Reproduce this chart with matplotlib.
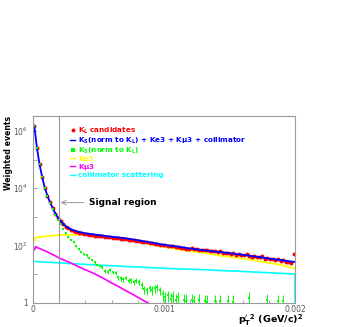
import numpy as np
import matplotlib
matplotlib.use("Agg")
import matplotlib.pyplot as plt
from matplotlib.lines import Line2D
from matplotlib.ticker import FixedLocator, FixedFormatter, MultipleLocator

# pT'^2 bins: 100 bins of 0.00002 (GeV/c)^2, values given as log10(weighted events)
bin_centers = np.arange(0.00001, 0.002, 0.00002)

kl_cand_log10 = [
    6.18, 5.41, 4.83, 4.39, 4.02, 3.74, 3.51, 3.30, 3.12, 2.97,
    2.85, 2.75, 2.66, 2.60, 2.55, 2.51, 2.48, 2.45, 2.43, 2.41,
    2.40, 2.38, 2.37, 2.35, 2.34, 2.34, 2.32, 2.31, 2.29, 2.29,
    2.27, 2.26, 2.26, 2.24, 2.23, 2.22, 2.20, 2.19, 2.18, 2.16,
    2.15, 2.14, 2.12, 2.11, 2.09, 2.08, 2.07, 2.05, 2.03, 2.02,
    2.01, 2.00, 1.97, 1.98, 1.95, 1.96, 1.92, 1.93, 1.90, 1.89,
    1.91, 1.87, 1.88, 1.84, 1.86, 1.85, 1.84, 1.81, 1.80, 1.82,
    1.77, 1.80, 1.73, 1.75, 1.74, 1.70, 1.76, 1.69, 1.71, 1.66,
    1.68, 1.72, 1.64, 1.62, 1.64, 1.60, 1.59, 1.63, 1.55, 1.58,
    1.52, 1.55, 1.49, 1.54, 1.46, 1.50, 1.43, 1.44, 1.41, 1.71,
]

N = None
ks_log10 = [
    6.18, 5.41, 4.83, 4.38, 4.01, 3.72, 3.48, 3.26, 3.06, 2.89,
    2.74, 2.58, 2.45, 2.30, 2.21, 2.12, 1.98, 1.88, 1.79, 1.72,
    1.66, 1.58, 1.50, 1.42, 1.34, 1.30, 1.24, 1.12, 1.09, 1.15,
    1.07, 1.04, 0.90, 0.86, 0.84, 0.88, 0.78, 0.80, 0.72, 0.78,
    0.74, 0.62, 0.48, 0.45, 0.52, 0.46, 0.51, 0.55, 0.44, 0.30,
    0.22, 0.28, 0.15, 0.25, 0.10, 0.20, N, 0.12, 0.08, N,
    0.10, 0.06, N, 0.12, N, 0.08, 0.05, N, N, 0.07,
    N, 0.06, N, N, 0.08, N, 0.05, N, N, N,
    N, N, 0.18, N, N, N, N, N, N, 0.10,
    N, N, N, 0.06, N, 0.08, N, N, N, N,
]
ks_rel_err = [
    0.01, 0.01, 0.01, 0.01, 0.01, 0.01, 0.01, 0.02, 0.02, 0.02,
    0.03, 0.03, 0.04, 0.04, 0.05, 0.05, 0.06, 0.07, 0.08, 0.08,
    0.09, 0.10, 0.10, 0.11, 0.12, 0.13, 0.14, 0.15, 0.15, 0.14,
    0.15, 0.16, 0.18, 0.19, 0.19, 0.18, 0.20, 0.20, 0.22, 0.20,
    0.21, 0.25, 0.30, 0.32, 0.28, 0.32, 0.30, 0.28, 0.32, 0.40,
    0.48, 0.42, 0.55, 0.45, 0.60, 0.50, N, 0.60, 0.65, N,
    0.62, 0.66, N, 0.60, N, 0.64, 0.66, N, N, 0.65,
    N, 0.66, N, N, 0.64, N, 0.66, N, N, N,
    N, N, 0.60, N, N, N, N, N, N, 0.62,
    N, N, N, 0.66, N, 0.64, N, N, N, N,
]

# fit sum: KS + Ke3 + Kmu3 + collimator
sum_x = [0.00001, 0.00003, 0.00005, 0.00007, 0.00009, 0.00011, 0.00013, 0.00015,
         0.00017, 0.00019, 0.00021, 0.00023, 0.00025, 0.00027, 0.00029, 0.00031,
         0.00035, 0.0004, 0.0005, 0.0006, 0.0007, 0.0008, 0.0009, 0.0010, 0.0011,
         0.0012, 0.0013, 0.0014, 0.0015, 0.0016, 0.0017, 0.0018, 0.0019, 0.0020]
sum_log10 = [6.18, 5.41, 4.83, 4.39, 4.02, 3.74, 3.51, 3.31,
             3.13, 2.98, 2.86, 2.76, 2.68, 2.62, 2.57, 2.53,
             2.48, 2.43, 2.37, 2.31, 2.26, 2.19, 2.11, 2.03, 1.97,
             1.90, 1.84, 1.79, 1.74, 1.68, 1.62, 1.55, 1.49, 1.43]

ke3_x = [0.0, 0.00001, 0.00002, 0.0001, 0.0002, 0.0003, 0.0004, 0.0005, 0.0006,
         0.0007, 0.0008, 0.0009, 0.0010, 0.0011, 0.0012, 0.0013, 0.0014, 0.0015,
         0.0016, 0.0017, 0.0018, 0.0019, 0.0020]
ke3_log10 = [2.15, 2.15, 2.28, 2.33, 2.37, 2.38, 2.38, 2.33, 2.28,
             2.22, 2.12, 2.04, 1.96, 1.88, 1.81, 1.75, 1.67, 1.61,
             1.55, 1.48, 1.40, 1.32, 1.20]

kmu3_x = [0.0, 0.00001, 0.00002, 0.00005, 0.0001, 0.00015, 0.0002, 0.00025, 0.0003,
          0.00035, 0.0004, 0.00045, 0.0005, 0.00055, 0.0006, 0.00065, 0.0007,
          0.00075, 0.0008, 0.00085, 0.00088]
kmu3_log10 = [1.85, 1.85, 1.95, 1.90, 1.80, 1.69, 1.57, 1.47, 1.37,
              1.26, 1.16, 1.06, 0.95, 0.83, 0.70, 0.58, 0.45,
              0.33, 0.20, 0.07, 0.0]

coll_x = [0.0, 0.0, 0.0002, 0.0005, 0.0010, 0.0013, 0.0016, 0.0020, 0.0020]
coll_log10 = [0.0, 1.45, 1.40, 1.32, 1.21, 1.16, 1.10, 1.01, 0.0]

signal_cut = 0.0002

RED, BLUE, GREEN = '#ff0000', '#0000ff', '#00ff00'
YELLOW, MAGENTA, CYAN = '#ffff00', '#ff00ff', '#00ffff'
GRAY = '#999999'

fig = plt.figure(figsize=(3.54, 3.27), dpi=100)
ax = fig.add_axes([0.0932, 0.0734, 0.7401, 0.5719])

def lin(v):
    return np.array([np.nan if a is None else 10 ** a for a in v], dtype=float)

ks = lin(ks_log10)
ks_err = ks * np.array([np.nan if a is None else a for a in ks_rel_err], dtype=float)

ax.plot(coll_x, lin(coll_log10), color=CYAN, lw=1.2)
ax.plot(kmu3_x, lin(kmu3_log10), color=MAGENTA, lw=1.2)
ax.plot(ke3_x, lin(ke3_log10), color=YELLOW, lw=1.3)
ax.errorbar(bin_centers, ks, yerr=ks_err, fmt='s', color=GREEN, ms=2.0,
            elinewidth=0.7, capsize=0, mew=0)
ax.plot(bin_centers, lin(kl_cand_log10), 'o', color=RED, ms=2.8, mew=0)
ax.plot(sum_x, lin(sum_log10), color=BLUE, lw=1.3)

ax.axvline(signal_cut, color=GRAY, lw=0.8)
ax.annotate('Signal region', xy=(signal_cut, 10 ** 3.5), xytext=(0.00043, 10 ** 3.5),
            fontsize=6.5, fontweight='bold', va='center', ha='left',
            arrowprops=dict(arrowstyle='->', color=GRAY, lw=0.7,
                            shrinkA=2, shrinkB=1, mutation_scale=8))

ax.set_yscale('log')
ax.set_xlim(0, 0.002)
ax.set_ylim(1, 10 ** 6.52)

ax.xaxis.set_major_locator(FixedLocator([0, 0.001, 0.002]))
ax.xaxis.set_major_formatter(FixedFormatter(['0', '0.001', '0.002']))
ax.xaxis.set_minor_locator(MultipleLocator(0.0002))
ax.yaxis.set_major_locator(FixedLocator([1, 10, 1e2, 1e3, 1e4, 1e5, 1e6]))
ax.yaxis.set_major_formatter(FixedFormatter(['1', '', r'$10^{2}$', '', r'$10^{4}$', '', r'$10^{6}$']))
ax.yaxis.set_minor_locator(FixedLocator([]))
ax.tick_params(which='both', direction='in', color=GRAY, labelcolor='#555555',
               labelsize=5.5, width=0.6)
ax.tick_params(which='major', length=3)
ax.tick_params(which='minor', length=2)
ax.tick_params(axis='x', pad=1.5)
for s in ax.spines.values():
    s.set_color(GRAY)
    s.set_linewidth(0.8)

ax.set_ylabel('Weighted events', loc='top', fontsize=5.6, fontweight='bold')
ax.yaxis.set_label_coords(-0.078, 1.0)
fig.text(0.856, 0.01, r"$\mathbf{p_{T}'^{2}}$ (GeV/c)$^{\mathbf{2}}$",
         fontsize=6.8, fontweight='bold', ha='right', va='baseline')

handles = [
    Line2D([], [], ls='none', marker='o', color=RED, ms=2.8, mew=0),
    Line2D([], [], color=BLUE, lw=1.0),
    Line2D([], [], ls='none', marker='s', color=GREEN, ms=2.2, mew=0),
    Line2D([], [], color=YELLOW, lw=1.0),
    Line2D([], [], color=MAGENTA, lw=1.0),
    Line2D([], [], color=CYAN, lw=1.0),
]
labels = [
    r'K$_{\mathbf{L}}$ candidates',
    r'K$_{\mathbf{S}}$(norm to K$_{\mathbf{L}}$) + Ke3 + K$\mathbf{\mu}$3 + collimator',
    r'K$_{\mathbf{S}}$(norm to K$_{\mathbf{L}}$)',
    'Ke3',
    r'K$\mathbf{\mu}$3',
    'collimator scattering',
]
leg = ax.legend(handles, labels, loc='upper left', bbox_to_anchor=(0.143, 0.95),
                frameon=False, handlelength=0.6, handletextpad=0.5,
                labelspacing=0.0, borderpad=0, borderaxespad=0,
                prop={'size': 5.2, 'weight': 'bold'},
                labelcolor=[RED, BLUE, GREEN, YELLOW, MAGENTA, CYAN])

fig.savefig('out.png', dpi=100)
